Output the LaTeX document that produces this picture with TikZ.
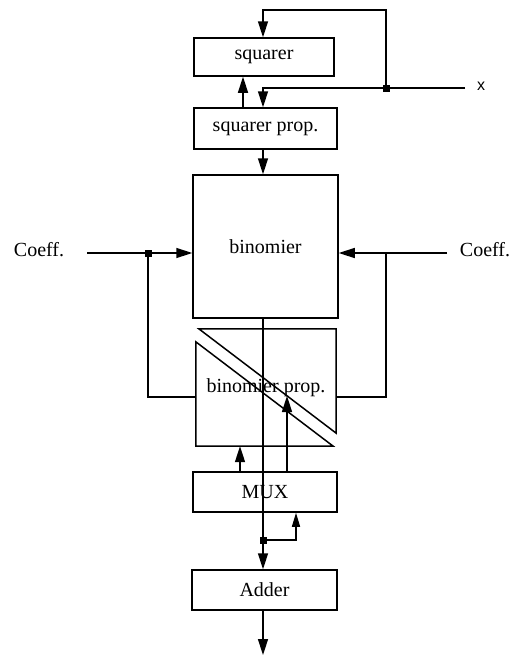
\documentclass[tikz,border=0pt]{standalone}
\usepackage{fontspec}
\setmainfont{Liberation Serif}
\setsansfont{Liberation Sans}
\usepackage{tikz}
\usetikzlibrary{arrows.meta, positioning, calc}

\begin{document}
\begin{tikzpicture}[x=1pt, y=-1pt,
  font=\fontsize{20}{24}\selectfont,
  blk/.style={draw, line width=1.5pt, inner sep=0pt},
  wire/.style={line width=1.5pt},
  arr/.style={wire, -{Triangle[length=16pt, width=10pt]}},
  sarr/.style={wire, -{Triangle[length=14pt, width=8pt]}},
  dot/.style={fill, rectangle, minimum size=7pt, inner sep=0pt},
  lbl/.style={inner sep=0pt}]
  \useasboundingbox (0,0) rectangle (512,656);
  \node[blk, minimum width=140pt, minimum height=38pt] (sq)    at (264,57)    {squarer};
  \node[blk, minimum width=143pt, minimum height=41pt] (sqp)   at (265.5,128.5) {squarer prop.};
  \node[blk, minimum width=145pt, minimum height=143pt] (bin)  at (265.5,246.5) {binomier};
  \node[inner sep=0pt, minimum width=140pt, minimum height=117pt] (binp) at (266,387.5) {binomier prop.};
  \node[blk, minimum width=144pt, minimum height=40pt] (mux)   at (265,492)   {MUX};
  \node[blk, minimum width=145pt, minimum height=40pt] (add)   at (264.5,590) {Adder};
  \node[lbl, font=\sffamily\fontsize{16}{18}\selectfont] (x) at (481,86) {x};
  \node[lbl] (cl) at (39,250) {Coeff.};
  \node[lbl] (cr) at (485,250) {Coeff.};
  \coordinate (spine) at (263,0);
  \coordinate (jx) at (386,88);
  \coordinate (jl) at (148,253);
  \coordinate (jm) at (263,540);
  \coordinate (xin) at (465,88);
  \coordinate (cli) at (87,253);
  \coordinate (cri) at (447,253);
  \coordinate (out) at (263,655);
  % binomier prop. split by the diagonal band
  \draw[wire, line join=miter] ($(binp.north west)+(3,0)$) -- (binp.north east)
    -- ($(binp.south east)+(0,-13)$) -- cycle;
  \draw[wire, line join=miter] ($(binp.north west)+(0,13)$) -- ($(binp.south east)+(-3,0)$)
    -- (binp.south west) -- cycle;
  % squarer loop
  \draw[arr] (jx) -- (386,10) -- (spine |- 0,10) -- (spine |- sq.north);
  \draw[arr] (xin) -- (spine |- jx) -- (spine |- sqp.north);
  \draw[arr] (243,0 |- sqp.north) -- (243,0 |- sq.south);
  \draw[arr] (spine |- sqp.south) -- (spine |- bin.north);
  % coefficients
  \draw[arr] (cli) -- (cli -| bin.west);
  \draw[wire] (jl) -- (148,397) -- (binp.west |- 0,397);
  \draw[arr] (cri) -- (cri -| bin.east);
  \draw[wire] (386,253) -- (386,397) -- (binp.east |- 0,397);
  % main path
  \draw[arr] (spine |- bin.south) -- (spine |- add.north);
  \draw[sarr] (jm) -- (296,540) -- (296,0 |- mux.south);
  \draw[arr] (240,0 |- mux.north) -- (240,0 |- binp.south);
  \draw[arr] (287,0 |- mux.north) -- (287,396);
  \draw[arr] (spine |- add.south) -- (out);
  \node[dot] at (jx) {};
  \node[dot] at (jl) {};
  \node[dot] at (jm) {};
\end{tikzpicture}
\end{document}
